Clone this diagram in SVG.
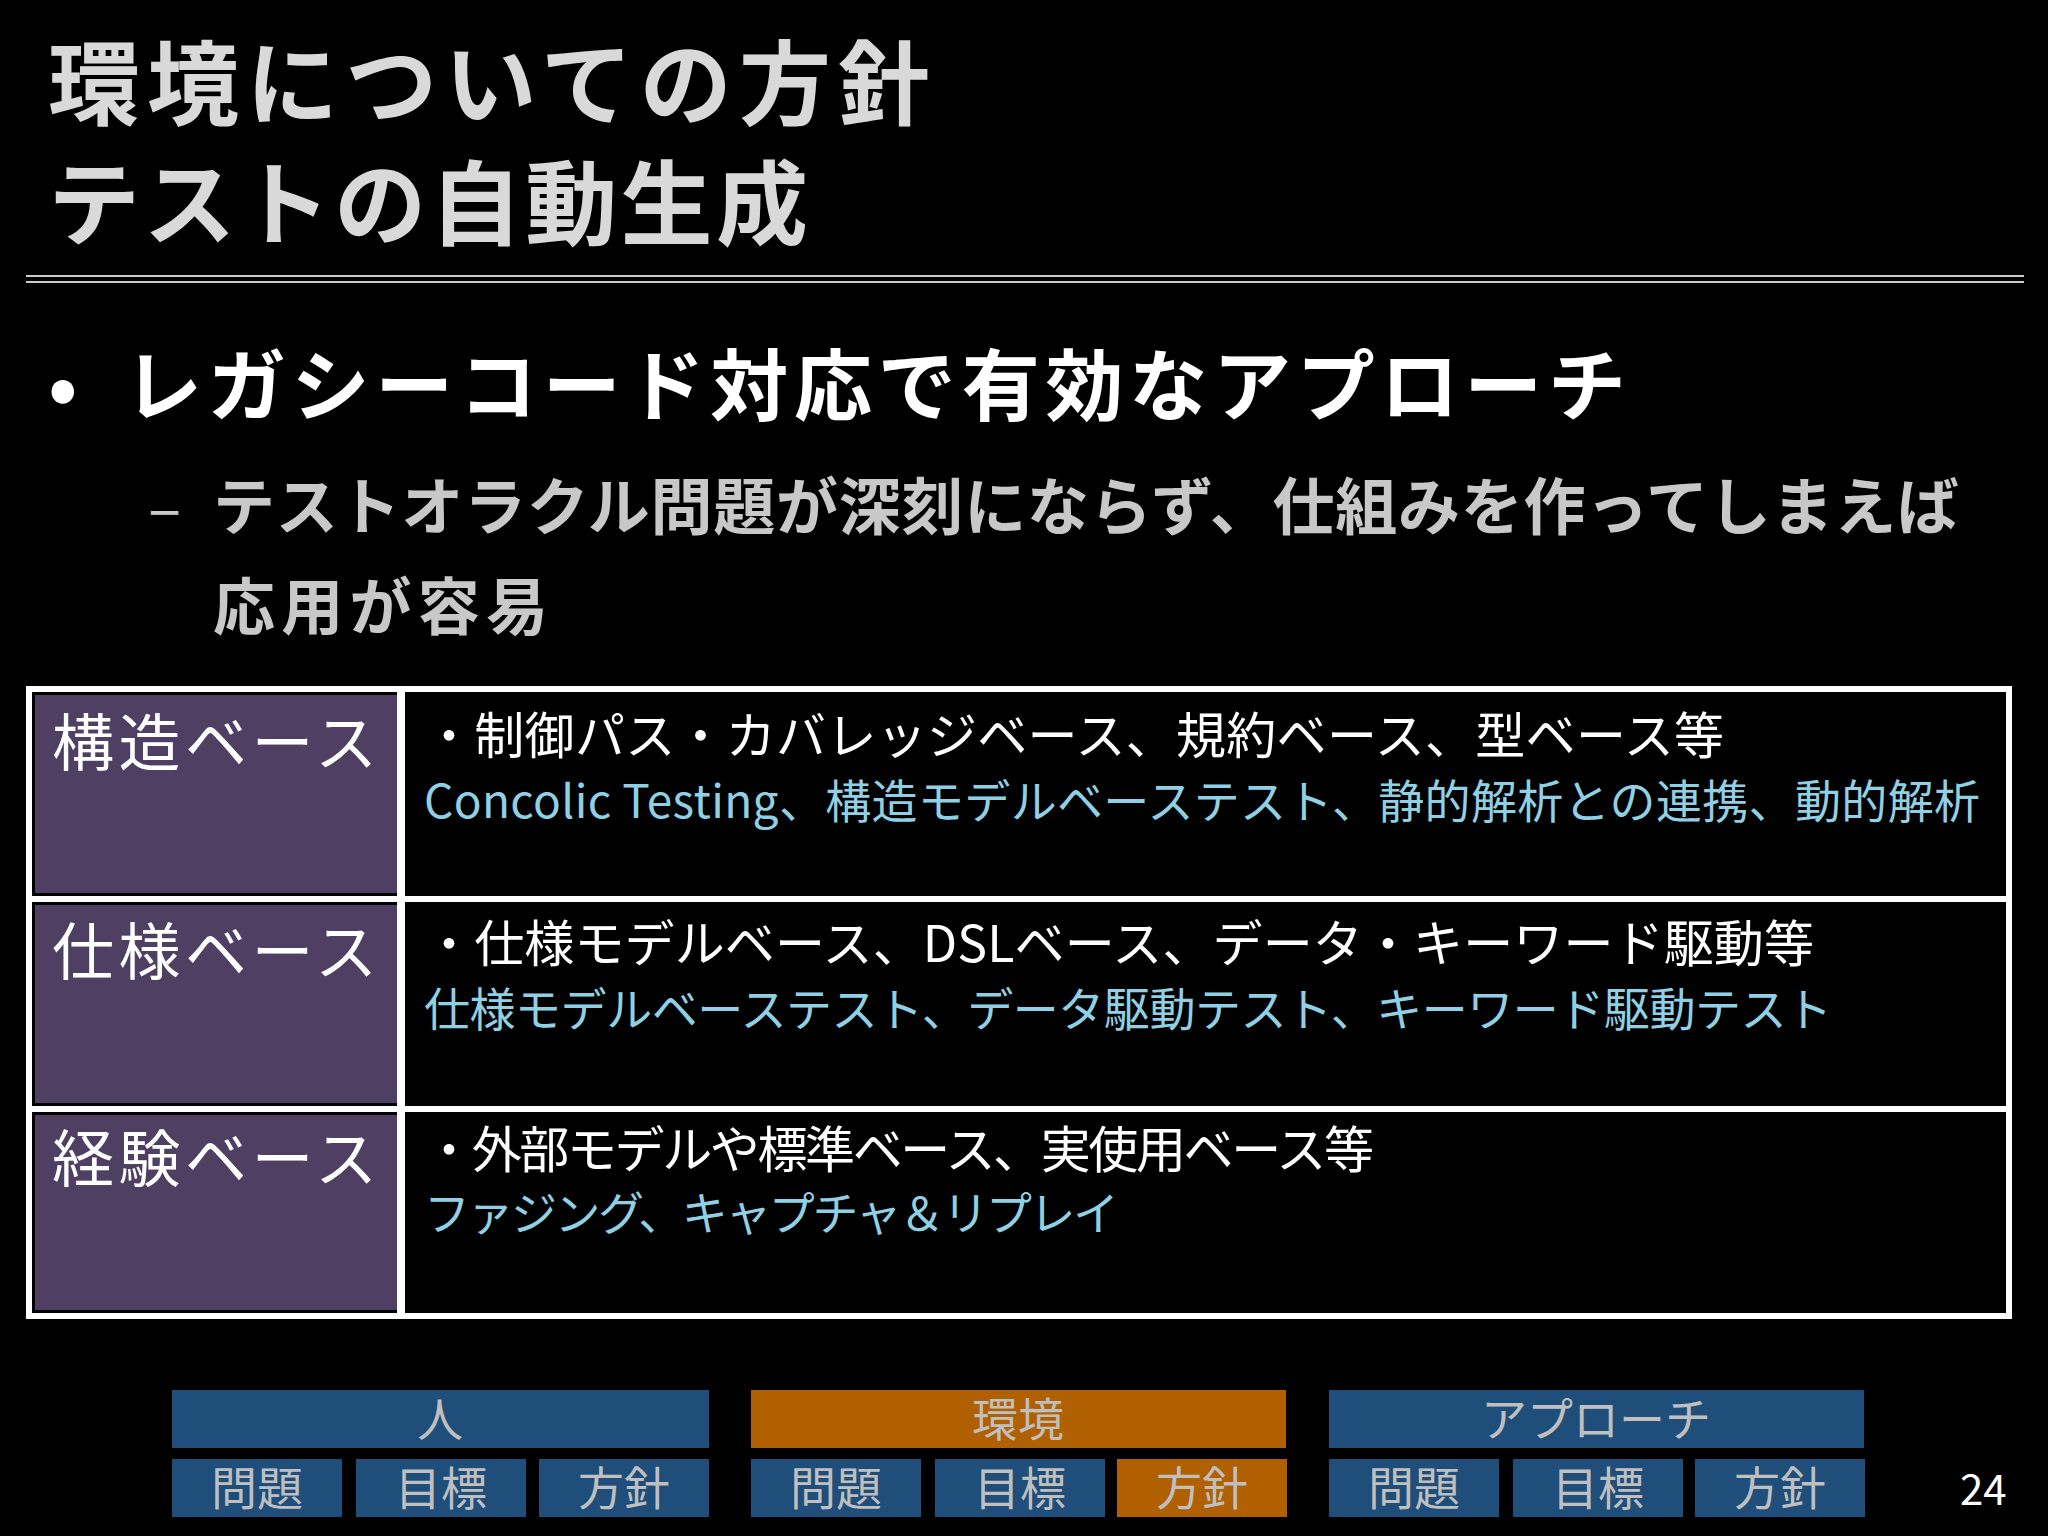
<svg xmlns="http://www.w3.org/2000/svg" width="2048" height="1536" viewBox="0 0 2048 1536">
<style>
text{font-family:"Noto Sans CJK JP","Noto Sans",sans-serif}
.t{fill:#d9d9d9;font-size:92px;font-weight:bold}
.lb{fill:#fff;font-size:62px}
.r1{fill:#fff;font-size:50px}
.r2{fill:#8fd0e4;font-size:46px}
.nb{fill:#bfbfbf;font-size:46px;text-anchor:middle}
.blue{fill:#1f4e7a}
.or{fill:#b06000}
</style>
<rect width="2048" height="1536" fill="#000"/>
<g id="title">
<text class="t" x="48" y="118" textLength="882">環境についての方針</text>
<text class="t" x="48" y="238" textLength="760">テストの自動生成</text>
<line x1="26" y1="276" x2="2024" y2="276" stroke="#ccc" stroke-width="2"/>
<line x1="26" y1="282" x2="2024" y2="282" stroke="#ccc" stroke-width="2"/>
</g>
<g id="bullets">
<text x="48" y="415" fill="#fff" font-size="78" font-weight="bold">•</text>
<text x="124" y="415" fill="#fff" font-size="78" font-weight="bold" textLength="1502">レガシーコード対応で有効なアプローチ</text>
<text x="148" y="530" fill="#c8c8c8" font-size="62">–</text>
<text x="213" y="530" fill="#c8c8c8" font-size="62" font-weight="bold" textLength="1746">テストオラクル問題が深刻にならず、仕組みを作ってしまえば</text>
<text x="213" y="630" fill="#c8c8c8" font-size="62" font-weight="bold" textLength="335">応用が容易</text>
</g>
<g id="table">
<rect x="29" y="689" width="1980" height="627" fill="#000" stroke="#fff" stroke-width="6"/>
<rect x="35" y="695" width="362" height="198" fill="#4f4063"/>
<rect x="35" y="905" width="362" height="198" fill="#4f4063"/>
<rect x="35" y="1115" width="362" height="195" fill="#4f4063"/>
<line x1="401" y1="689" x2="401" y2="1316" stroke="#fff" stroke-width="8"/>
<line x1="29" y1="899" x2="2009" y2="899" stroke="#fff" stroke-width="6"/>
<line x1="29" y1="1109" x2="2009" y2="1109" stroke="#fff" stroke-width="6"/>
<text class="lb" x="52" y="766" textLength="325">構造ベース</text>
<text class="lb" x="52" y="975" textLength="325">仕様ベース</text>
<text class="lb" x="52" y="1182" textLength="325">経験ベース</text>
<text class="r1" x="424" y="754" textLength="1300">・制御パス・カバレッジベース、規約ベース、型ベース等</text>
<text class="r2" x="424" y="818" textLength="1556">Concolic Testing、構造モデルベーステスト、静的解析との連携、動的解析</text>
<text class="r1" x="424" y="962" textLength="1390">・仕様モデルベース、DSLベース、データ・キーワード駆動等</text>
<text class="r2" x="424" y="1026" textLength="1408">仕様モデルベーステスト、データ駆動テスト、キーワード駆動テスト</text>
<text class="r1" x="424" y="1168" textLength="950">・外部モデルや標準ベース、実使用ベース等</text>
<text class="r2" x="424" y="1230" textLength="695">ファジング、キャプチャ＆リプレイ</text>
</g>
<g id="nav">
<rect class="blue" x="172" y="1390" width="537" height="58"/>
<rect class="or" x="751" y="1390" width="535" height="58"/>
<rect class="blue" x="1329" y="1390" width="535" height="58"/>
<text class="nb" x="440" y="1436">人</text>
<text class="nb" x="1018" y="1436">環境</text>
<text class="nb" x="1596" y="1436">アプローチ</text>
<rect class="blue" x="172" y="1459" width="170" height="58"/>
<rect class="blue" x="356" y="1459" width="170" height="58"/>
<rect class="blue" x="539" y="1459" width="170" height="58"/>
<rect class="blue" x="751" y="1459" width="170" height="58"/>
<rect class="blue" x="935" y="1459" width="170" height="58"/>
<rect class="or" x="1117" y="1459" width="170" height="58"/>
<rect class="blue" x="1329" y="1459" width="170" height="58"/>
<rect class="blue" x="1513" y="1459" width="170" height="58"/>
<rect class="blue" x="1695" y="1459" width="170" height="58"/>
<text class="nb" x="257" y="1505">問題</text>
<text class="nb" x="441" y="1505">目標</text>
<text class="nb" x="624" y="1505">方針</text>
<text class="nb" x="836" y="1505">問題</text>
<text class="nb" x="1020" y="1505">目標</text>
<text class="nb" x="1202" y="1505">方針</text>
<text class="nb" x="1414" y="1505">問題</text>
<text class="nb" x="1598" y="1505">目標</text>
<text class="nb" x="1780" y="1505">方針</text>
<text x="1960" y="1505" fill="#fff" font-size="42" font-family="Liberation Serif,serif">24</text>
</g>
</svg>
